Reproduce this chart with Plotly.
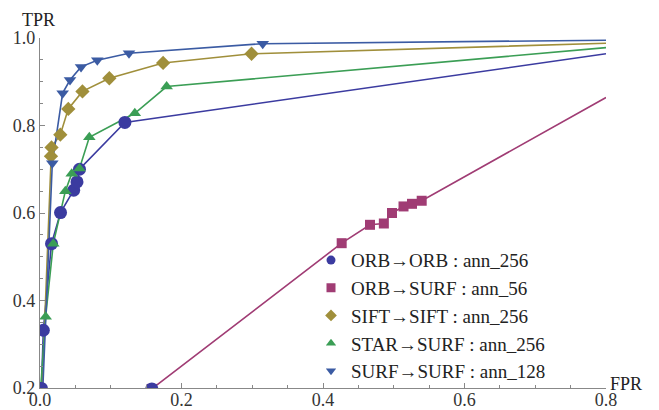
import plotly.graph_objects as go

# ---- data (FPR, TPR) ----
orb_orb_fpr = [0.002, 0.0047, 0.0163, 0.029, 0.0476, 0.0523, 0.0558, 0.120]
orb_orb_tpr = [0.199, 0.332, 0.530, 0.601, 0.652, 0.671, 0.700, 0.807]

orb_surf_fpr = [0.158, 0.4264, 0.4664, 0.486, 0.4975, 0.5138, 0.5258, 0.5395]
orb_surf_tpr = [0.198, 0.531, 0.573, 0.576, 0.600, 0.615, 0.621, 0.628]

sift_fpr = [0.0155, 0.0163, 0.0287, 0.040, 0.060, 0.098, 0.174, 0.299]
sift_tpr = [0.730, 0.750, 0.779, 0.838, 0.878, 0.908, 0.943, 0.964]

star_fpr = [0.008, 0.0188, 0.0358, 0.0448, 0.0558, 0.0697, 0.134, 0.179]
star_tpr = [0.363, 0.530, 0.650, 0.690, 0.702, 0.773, 0.828, 0.889]

surf_fpr = [0.0174, 0.032, 0.0424, 0.058, 0.081, 0.1258, 0.3148]
surf_tpr = [0.714, 0.874, 0.904, 0.934, 0.949, 0.965, 0.987]

# line starts (below the markers) and line ends at the right edge of the plot
line_start = {"sift": (0.003, 0.2), "star": (0.001, 0.2), "surf": (0.004, 0.2)}
line_end = {"orb_orb": (0.8, 0.964), "orb_surf": (0.8, 0.864),
            "sift": (0.8, 0.988), "star": (0.8, 0.978), "surf": (0.8, 0.995)}

# extra ORB circle drawn at the start of the ORB->SURF line
orb_extra_fpr = [0.158]
orb_extra_tpr = [0.198]

names = ["ORB→ORB : ann_256", "ORB→SURF : ann_56", "SIFT→SIFT : ann_256",
         "STAR→SURF : ann_256", "SURF→SURF : ann_128"]
colors = ["#3b3ba0", "#a03c74", "#a08f3b", "#3b9e55", "#3b5ba3"]
symbols = ["circle", "square", "diamond", "triangle-up", "triangle-down"]
sizes = [13, 10, 11, 11, 11]

series = [
    ("orb_orb", orb_orb_fpr, orb_orb_tpr),
    ("orb_surf", orb_surf_fpr, orb_surf_tpr),
    ("sift", sift_fpr, sift_tpr),
    ("star", star_fpr, star_tpr),
    ("surf", surf_fpr, surf_tpr),
]

SERIF = "Liberation Serif, Times New Roman, serif"

fig = go.Figure()

# lines
for i, (key, xs, ys) in enumerate(series):
    lx = list(xs)
    ly = list(ys)
    if key in line_start:
        lx = [line_start[key][0]] + lx
        ly = [line_start[key][1]] + ly
    lx = lx + [line_end[key][0]]
    ly = ly + [line_end[key][1]]
    fig.add_trace(go.Scatter(x=lx, y=ly, mode="lines", showlegend=False,
                             line=dict(color=colors[i], width=1.6),
                             hoverinfo="skip"))

# markers
for i, (key, xs, ys) in enumerate(series):
    fig.add_trace(go.Scatter(x=xs, y=ys, mode="markers", showlegend=False,
                             marker=dict(color=colors[i], symbol=symbols[i],
                                         size=sizes[i], line=dict(width=0)),
                             cliponaxis=True))
fig.add_trace(go.Scatter(x=orb_extra_fpr, y=orb_extra_tpr, mode="markers",
                         showlegend=False,
                         marker=dict(color=colors[0], symbol="circle",
                                     size=sizes[0], line=dict(width=0))))

# legend entries (smaller markers, marker only)
for i in range(5):
    fig.add_trace(go.Scatter(x=[None], y=[None], mode="markers", name=names[i],
                             marker=dict(color=colors[i], symbol=symbols[i],
                                         size=9, line=dict(width=0))))

axis_font = dict(family=SERIF, size=18, color="#333333")

# page has an 8px body margin: figure drawn at (8, 8)
W, H = 651, 402
L, T = 32, 29.5
R, B = W - 598, H - 380
PW, PH = W - L - R, H - T - B

fig.update_layout(
    width=W, height=H,
    margin=dict(l=L, r=R, t=T, b=B, autoexpand=False),
    paper_bgcolor="white", plot_bgcolor="white",
    font=dict(family=SERIF, color="#222222"),
    showlegend=True,
    legend=dict(x=(303 - L) / PW, y=1 - (233 - T) / PH,
                xanchor="left", yanchor="top",
                bgcolor="rgba(0,0,0,0)",
                font=dict(family=SERIF, size=19, color="#222222"),
                tracegroupgap=0, itemwidth=30),
    xaxis=dict(range=[0, 0.8], showgrid=False, zeroline=False, automargin=False,
               showline=True, linecolor="#888888", linewidth=1.2,
               ticks="inside", ticklen=5, tickcolor="#888888",
               tickvals=[0, 0.2, 0.4, 0.6, 0.8],
               ticktext=["0.0", "0.2", "0.4", "0.6", "0.8"],
               tickfont=axis_font, ticklabelstandoff=-5,
               minor=dict(dtick=0.05, ticks="inside", ticklen=3,
                          tickcolor="#888888", showgrid=False)),
    yaxis=dict(range=[0.2, 1.0], showgrid=False, zeroline=False, automargin=False,
               showline=True, linecolor="#888888", linewidth=1.2,
               ticks="inside", ticklen=5, tickcolor="#888888",
               tickvals=[0.2, 0.4, 0.6, 0.8, 1.0],
               ticktext=["0.2", "0.4", "0.6", "0.8", "1.0"],
               tickfont=axis_font,
               minor=dict(dtick=0.05, ticks="inside", ticklen=3,
                          tickcolor="#888888", showgrid=False)),
    annotations=[
        dict(text="TPR", xref="paper", yref="paper", x=-0.035, y=1.0,
             xanchor="left", yanchor="bottom", showarrow=False, yshift=6,
             font=dict(family=SERIF, size=18, color="#222222")),
        dict(text="FPR", xref="paper", yref="paper", x=1.0, y=0.0,
             xanchor="left", yanchor="middle", showarrow=False, xshift=2,
             yshift=4,
             font=dict(family=SERIF, size=18, color="#222222")),
    ],
)

fig.write_html("out.html")
